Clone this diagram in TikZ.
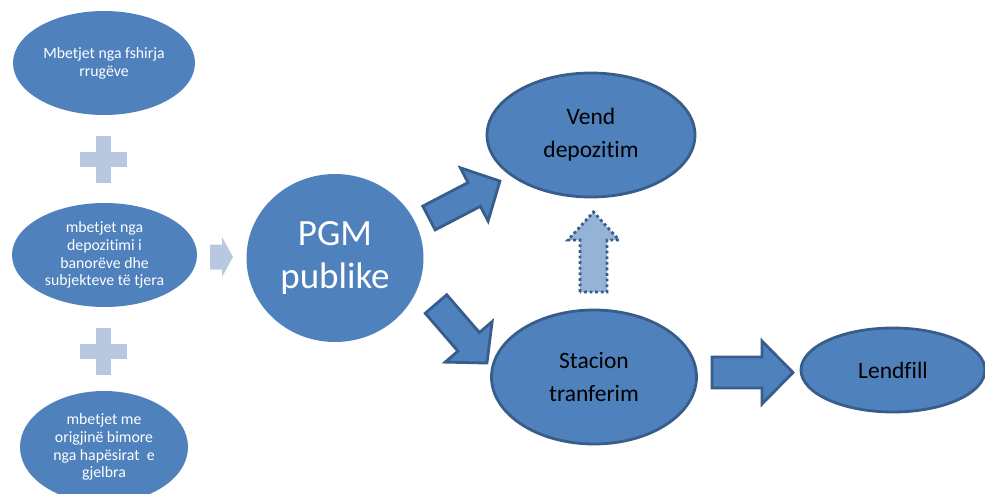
\documentclass[tikz,border=0pt]{standalone}
\usepackage{fontspec}
\setmainfont{Carlito}[Ligatures=NoCommon]
\definecolor{bfill}{RGB}{79,129,189}
\definecolor{bline}{RGB}{56,93,138}
\definecolor{plusc}{RGB}{185,200,225}
\definecolor{dotfill}{RGB}{149,179,215}
\tikzset{
  leftell/.style={ellipse, fill=bfill, text=white, align=center, inner sep=0pt,
    font=\fontsize{15.8}{17.8}\selectfont},
  rightell/.style={ellipse, fill=bfill, draw=bline, line width=2.8pt, text=black, align=center, inner sep=0pt,
    font=\fontsize{23.5}{33}\selectfont},
  blockarr/.style={fill=bfill, draw=bline, line width=2.8pt, line join=miter},
  plusshape/.style={fill=plusc},
}
\usetikzlibrary{shapes.geometric}
\begin{document}
\begin{tikzpicture}[x=1pt,y=-1pt]
\useasboundingbox (0,0) rectangle (985,493);
% left ellipses
\node[leftell, minimum width=182pt, minimum height=104pt] (e1) at (104,63) {Mbetjet nga fshirja\\rrugëve};
\node[leftell, minimum width=185pt, minimum height=104pt] (e2) at (104.5,255) {mbetjet nga\\depozitimi i\\banorëve dhe\\subjekteve të tjera};
\node[leftell, minimum width=168pt, minimum height=112pt] (e3) at (104,447) {mbetjet me\\origjinë bimore\\nga hapësirat\ \ e\\gjelbra};
% plus signs
\foreach \cy/\nm in {159.5/p1, 351.5/p2}{
  \coordinate (\nm) at (103.5,\cy);
  \fill[plusc] ([shift={(-23.5,-7.5)}]\nm) rectangle ([shift={(23.5,7.5)}]\nm);
  \fill[plusc] ([shift={(-7.5,-23.5)}]\nm) rectangle ([shift={(7.5,23.5)}]\nm);
}
% PGM
\node[ellipse, fill=bfill, text=white, align=center, inner sep=0pt, minimum width=177pt, minimum height=168pt,
  font=\fontsize{37}{43}\selectfont] (pgm) at (335,258) {PGM\\publike};
% small light arrow
\fill[plusc] (210,244.5) -- (222,244.5) -- (222,237) -- (233,257) -- (222,277) -- (222,269.5) -- (210,269.5) -- cycle;
% right ellipses
\node[rightell, minimum width=208pt, minimum height=124pt] (vend) at (591,135) {Vend\\depozitim};
\node[rightell, minimum width=205pt, minimum height=134pt] (stac) at (594,377) {Stacion\\tranferim};
\node[rightell, minimum width=184pt, minimum height=84pt] (lend) at (893,370) {Lendfill};
% block arrows
\begin{scope}[shift={(429,218)}, rotate=27.5]
  \path[blockarr] (0,-13.4) -- (51,-13.4) -- (51,-30) -- (80,0) -- (51,30) -- (51,13.4) -- (0,13.4) -- cycle;
\end{scope}
\begin{scope}[shift={(436,304)}, rotate=-49.2]
  \path[blockarr] (0,-14.2) -- (50,-14.2) -- (50,-31) -- (78,0) -- (50,31) -- (50,14.2) -- (0,14.2) -- cycle;
\end{scope}
\begin{scope}[shift={(712,372.5)}]
  \path[blockarr] (0,-15.5) -- (50,-15.5) -- (50,-31.5) -- (81,0) -- (50,31.5) -- (50,15.5) -- (0,15.5) -- cycle;
\end{scope}
% dotted up arrow
\path[fill=dotfill, draw=bline, line width=2.8pt, dash pattern=on 2.8pt off 2.8pt]
  (580,292) -- (580,240) -- (568,240) -- (593.5,212) -- (619,240) -- (607,240) -- (607,292) -- cycle;
\end{tikzpicture}
\end{document}
